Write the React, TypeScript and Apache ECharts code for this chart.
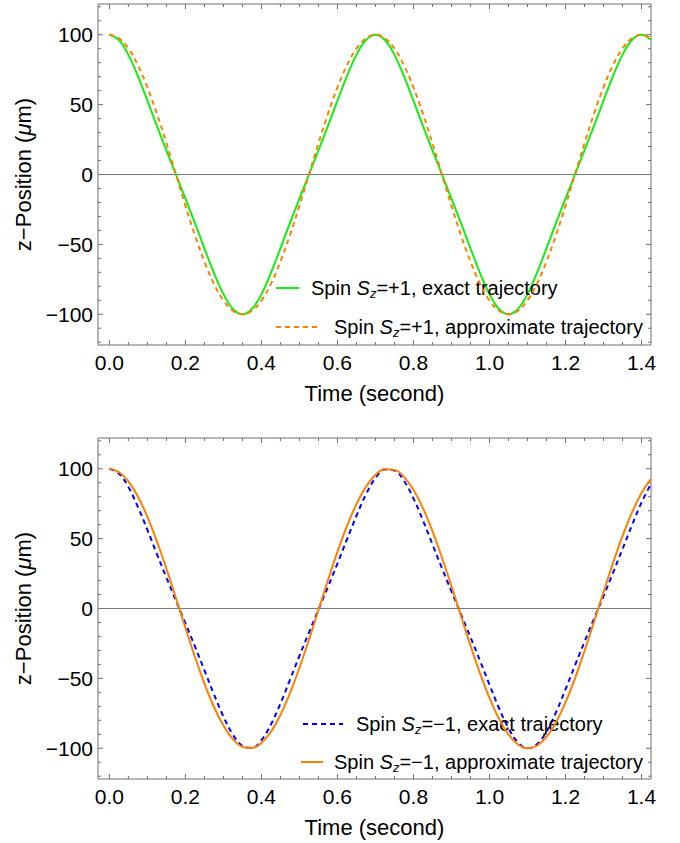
import React, { useEffect, useRef } from "react";
import * as echarts from "echarts";

// ---------- data ----------
const T = [0, 0.025, 0.05, 0.075, 0.1, 0.125, 0.15, 0.175, 0.2, 0.225, 0.25, 0.275, 0.3, 0.325, 0.35, 0.375, 0.4, 0.425, 0.45, 0.475, 0.5, 0.525, 0.55, 0.575, 0.6, 0.625, 0.65, 0.675, 0.7, 0.725, 0.75, 0.775, 0.8, 0.825, 0.85, 0.875, 0.9, 0.925, 0.95, 0.975, 1.0, 1.025, 1.05, 1.075, 1.1, 1.125, 1.15, 1.175, 1.2, 1.225, 1.25, 1.275, 1.3, 1.325, 1.35, 1.375, 1.4, 1.425];

// Top panel: Sz = +1
const TOP_EXACT = [100, 96.2, 85.6, 70.4, 52.8, 34.8, 17.2, 0, -17.2, -34.8, -52.8, -70.4, -85.6, -96.2, -100, -96.2, -85.6, -70.4, -52.8, -34.8, -17.2, 0, 17.2, 34.8, 52.8, 70.4, 85.6, 96.2, 100, 96.2, 85.6, 70.4, 52.8, 34.8, 17.2, 0, -17.2, -34.8, -52.8, -70.4, -85.6, -96.2, -100, -96.2, -85.6, -70.4, -52.8, -34.8, -17.2, 0, 17.2, 34.8, 52.8, 70.4, 85.6, 96.2, 100, 96.2];
const TOP_APPROX = [100, 97.5, 90.1, 78.2, 62.3, 43.4, 22.3, 0, -22.3, -43.4, -62.3, -78.2, -90.1, -97.5, -100, -97.5, -90.1, -78.2, -62.3, -43.4, -22.3, 0, 22.3, 43.4, 62.3, 78.2, 90.1, 97.5, 100, 97.5, 90.1, 78.2, 62.3, 43.4, 22.3, 0, -22.3, -43.4, -62.3, -78.2, -90.1, -97.5, -100, -97.5, -90.1, -78.2, -62.3, -43.4, -22.3, 0, 22.3, 43.4, 62.3, 78.2, 90.1, 97.5, 100, 97.5];

// Bottom panel: Sz = -1
const BOTTOM_EXACT = [100, 96.6, 86.9, 72.7, 56.2, 39.0, 22.1, 5.7, -10.6, -27.1, -44.2, -61.3, -77.3, -90.3, -98.3, -99.7, -94.2, -83.0, -68.0, -51.1, -33.9, -17.2, -0.8, 15.5, 32.2, 49.4, 66.3, 81.6, 93.3, 99.4, 98.7, 91.4, 78.8, 63.0, 45.9, 28.8, 12.2, -4.1, -20.5, -37.3, -54.5, -71.2, -85.6, -95.8, -100.0, -97.2, -88.1, -74.3, -57.9, -40.7, -23.8, -7.3, 8.9, 25.5, 42.5, 59.6, 75.8, 89.2];
const BOTTOM_APPROX = [100, 97.7, 91.0, 80.2, 65.6, 48.1, 28.5, 7.5, -13.8, -34.5, -53.7, -70.3, -83.8, -93.5, -98.9, -99.8, -96.2, -88.2, -76.1, -60.7, -42.4, -22.3, -1.1, 20.2, 40.5, 59.0, 74.7, 87.1, 95.6, 99.6, 99.2, 94.2, 85.0, 71.8, 55.4, 36.5, 16.0, -5.3, -26.4, -46.3, -64.0, -78.8, -90.1, -97.3, -100.0, -98.2, -91.9, -81.4, -67.2, -50.0, -30.5, -9.6, 11.7, 32.5, 51.8, 68.8, 82.6, 92.7];

// Ticks and labels
const X_MAJOR = [0, 0.2, 0.4, 0.6, 0.8, 1.0, 1.2, 1.4];
const X_MINOR = [0.05, 0.1, 0.15, 0.25, 0.3, 0.35, 0.45, 0.5, 0.55, 0.65, 0.7, 0.75, 0.85, 0.9, 0.95, 1.05, 1.1, 1.15, 1.25, 1.3, 1.35];
const Y_MAJOR = [-100, -50, 0, 50, 100];
const Y_MINOR = [-120, -110, -90, -80, -70, -60, -40, -30, -20, -10, 10, 20, 30, 40, 60, 70, 80, 90, 110, 120];

const NAME_TOP_EXACT = "Spin Sz=+1, exact trajectory";
const NAME_TOP_APPROX = "Spin Sz=+1, approximate trajectory";
const NAME_BOT_EXACT = "Spin Sz=\u22121, exact trajectory";
const NAME_BOT_APPROX = "Spin Sz=\u22121, approximate trajectory";

// ---------- styles ----------
const FONT = "'Liberation Sans', Arial, Helvetica, sans-serif";
const FRAME = "#6f6f6f";
const GREEN = "#11ee11";
const ORANGE = "#ff8000";
const BLUE = "#0000ff";

const X_MIN = -0.03;
const X_MAX = 1.425;
const Y_MIN = -122;
const Y_MAX = 122;

function tickItems() {
  const d: number[][] = [];
  X_MAJOR.forEach((v) => d.push([v, 0, 0]));
  X_MINOR.forEach((v) => d.push([v, 0, 1]));
  Y_MAJOR.forEach((v) => d.push([0, v, 2]));
  Y_MINOR.forEach((v) => d.push([0, v, 3]));
  d.push([0, 0, 4]);
  return d;
}

function renderTick(params: any, api: any) {
  const kind = api.value(2);
  const cs = params.coordSys;
  const st = { stroke: FRAME, lineWidth: 1 };
  if (kind === 4) {
    const y = api.coord([0, 0])[1];
    return {
      type: "line",
      shape: { x1: cs.x, y1: y, x2: cs.x + cs.width, y2: y },
      style: { stroke: "#777777", lineWidth: 1 },
    };
  }
  if (kind < 2) {
    const len = kind === 0 ? 5 : 3;
    const x = api.coord([api.value(0), 0])[0];
    const b = cs.y + cs.height;
    return {
      type: "group",
      children: [
        { type: "line", shape: { x1: x, y1: b, x2: x, y2: b - len }, style: st },
        { type: "line", shape: { x1: x, y1: cs.y, x2: x, y2: cs.y + len }, style: st },
      ],
    };
  }
  const len = kind === 2 ? 5 : 3;
  const y = api.coord([0, api.value(1)])[1];
  const r = cs.x + cs.width;
  return {
    type: "group",
    children: [
      { type: "line", shape: { x1: cs.x, y1: y, x2: cs.x + len, y2: y }, style: st },
      { type: "line", shape: { x1: r, y1: y, x2: r - len, y2: y }, style: st },
    ],
  };
}

function mkX(i: number) {
  return {
    type: "value",
    gridIndex: i,
    min: X_MIN,
    max: X_MAX,
    axisLine: { show: false },
    axisTick: { show: false },
    splitLine: { show: false },
    axisLabel: {
      customValues: X_MAJOR,
      formatter: (v: number) => v.toFixed(1),
      fontSize: 21,
      color: "#000",
      margin: 7,
      fontFamily: FONT,
    },
    name: "Time (second)",
    nameLocation: "middle",
    nameGap: 37,
    nameTextStyle: { fontSize: 22, color: "#000", fontFamily: FONT },
  };
}

function mkY(i: number) {
  return {
    type: "value",
    gridIndex: i,
    min: Y_MIN,
    max: Y_MAX,
    axisLine: { show: false },
    axisTick: { show: false },
    splitLine: { show: false },
    axisLabel: {
      customValues: Y_MAJOR,
      formatter: (v: number) => (v < 0 ? "\u2212" + Math.abs(v) : String(v)),
      fontSize: 21,
      color: "#000",
      margin: 5,
      fontFamily: FONT,
    },
    name: "z\u2212Position ({it|\u03bc}m)",
    nameLocation: "middle",
    nameGap: 60,
    nameTextStyle: {
      fontSize: 22,
      color: "#000",
      fontFamily: FONT,
      rich: { it: { fontStyle: "italic", fontSize: 22, color: "#000", fontFamily: FONT } },
    },
  };
}

function mkLegend(name: string, left: number, top: number, w: number, gap: number) {
  const label = name.replace("Sz", "{it|S}{sub|z}");
  return {
    data: [name],
    left,
    top,
    orient: "vertical",
    padding: 0,
    itemWidth: w,
    itemHeight: 20,
    selectedMode: false,
    itemStyle: { opacity: 0 },
    formatter: () => "{g|}" + label,
    textStyle: {
      fontSize: 20,
      color: "#000",
      fontFamily: FONT,
      lineHeight: 24,
      rich: {
        g: { width: gap },
        it: { fontStyle: "italic", fontSize: 20, color: "#000", fontFamily: FONT, lineHeight: 24 },
        sub: { fontStyle: "italic", fontSize: 13, color: "#000", fontFamily: FONT, lineHeight: 13, verticalAlign: "bottom" },
      },
    },
  };
}

function lineSeries(name: string, idx: number, ys: number[], color: string, dashed: boolean, z: number) {
  return {
    type: "line",
    name,
    xAxisIndex: idx,
    yAxisIndex: idx,
    data: T.map((t, i) => [t, ys[i]]),
    showSymbol: false,
    symbol: "none",
    smooth: 0.4,
    lineStyle: { color, width: 2, type: dashed ? [5, 4] : "solid" },
    itemStyle: { color },
    z,
  };
}

export default function App() {
  const ref = useRef<HTMLDivElement>(null);
  useEffect(() => {
    document.body.style.margin = "0";
    if (!ref.current) return;
    const chart = echarts.init(ref.current, undefined, { renderer: "svg" });
    const ticks = tickItems();
    chart.setOption({
      animation: false,
      backgroundColor: "#ffffff",
      textStyle: { fontFamily: FONT },
      grid: [
        { left: 98, top: 4, width: 553, height: 341, show: true, borderColor: FRAME, borderWidth: 1, backgroundColor: "transparent", containLabel: false, outerBoundsMode: "none" },
        { left: 98, top: 438, width: 553, height: 341, show: true, borderColor: FRAME, borderWidth: 1, backgroundColor: "transparent", containLabel: false, outerBoundsMode: "none" },
      ],
      xAxis: [mkX(0), mkX(1)],
      yAxis: [mkY(0), mkY(1)],
      legend: [
        mkLegend(NAME_TOP_EXACT, 275, 276, 23, 7),
        mkLegend(NAME_TOP_APPROX, 275, 315, 43, 10),
        mkLegend(NAME_BOT_EXACT, 302, 712, 40, 8),
        mkLegend(NAME_BOT_APPROX, 300, 750, 22, 6),
      ],
      series: [
        { type: "custom", xAxisIndex: 0, yAxisIndex: 0, data: ticks, renderItem: renderTick, encode: { x: 0, y: 1 }, silent: true, clip: false, z: 1 },
        { type: "custom", xAxisIndex: 1, yAxisIndex: 1, data: ticks, renderItem: renderTick, encode: { x: 0, y: 1 }, silent: true, clip: false, z: 1 },
        lineSeries(NAME_TOP_EXACT, 0, TOP_EXACT, GREEN, false, 3),
        lineSeries(NAME_TOP_APPROX, 0, TOP_APPROX, ORANGE, true, 4),
        lineSeries(NAME_BOT_EXACT, 1, BOTTOM_EXACT, BLUE, true, 3),
        lineSeries(NAME_BOT_APPROX, 1, BOTTOM_APPROX, ORANGE, false, 4),
      ],
    });
    return () => chart.dispose();
  }, []);
  return <div ref={ref} style={{ width: 680, height: 843 }} />;
}
